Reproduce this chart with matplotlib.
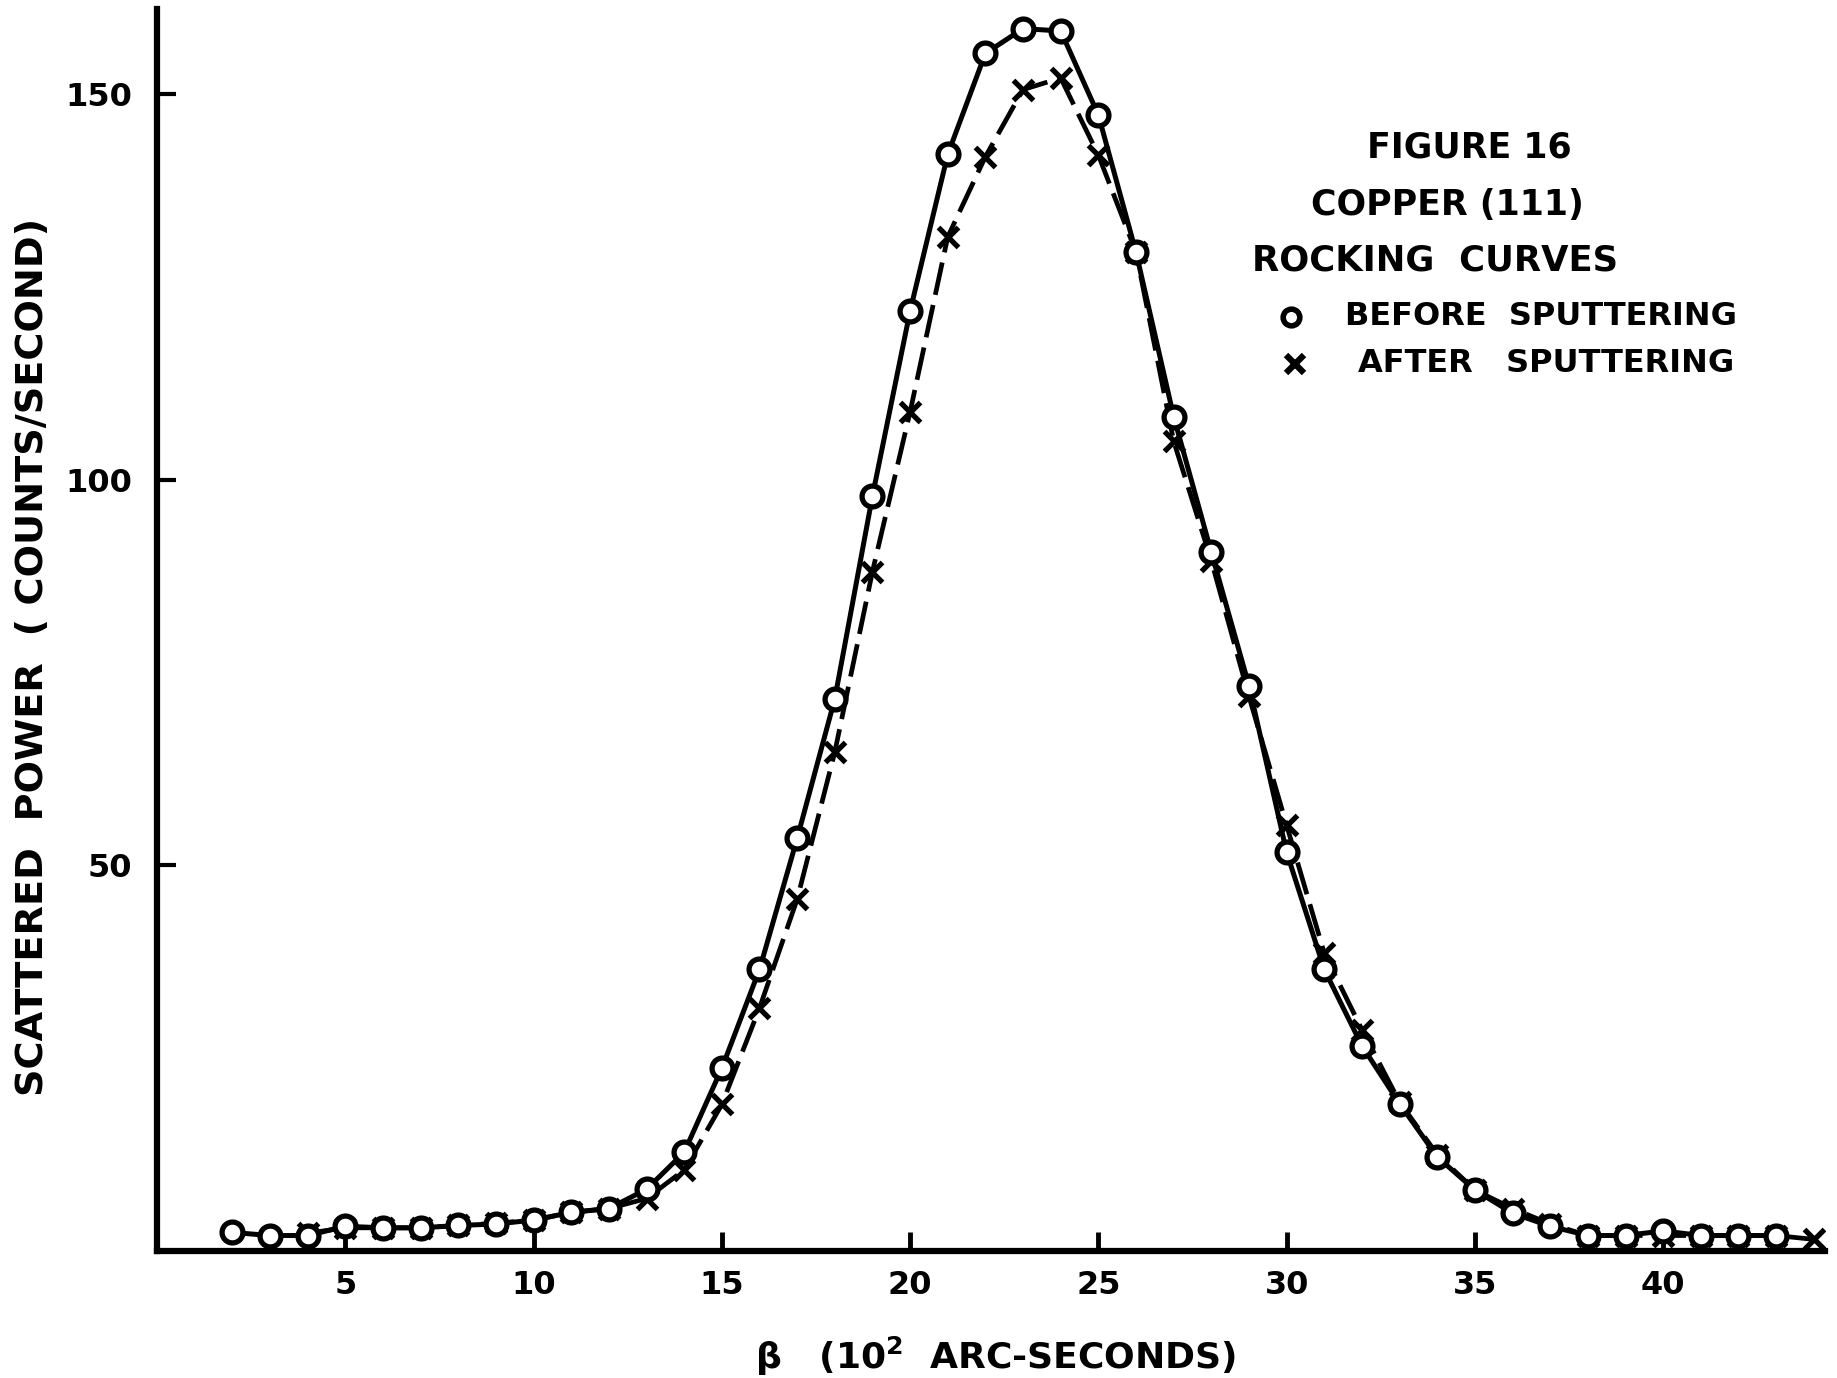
import matplotlib
matplotlib.use("Agg")
import matplotlib.pyplot as plt

# Data: beta (10^2 arc-seconds) and scattered power (counts/second)
before_x = [2, 3, 4, 5, 6, 7, 8, 9, 10, 11, 12, 13, 14, 15, 16, 17, 18, 19, 20, 21,
            22, 23, 24, 25, 26, 27, 28, 29, 30, 31, 32, 33, 34, 35, 36, 37, 38, 39, 40, 41, 42, 43]
before_y = [2.4, 2.0, 2.0, 3.2, 3.0, 3.0, 3.3, 3.5, 4.0, 5.0, 5.5, 8.0, 12.8, 23.7, 36.5, 53.5,
            71.6, 97.9, 121.9, 142.2, 155.3, 158.5, 158.2, 147.3, 129.5, 108.2, 90.6, 73.3,
            51.7, 36.5, 26.6, 19.1, 12.2, 7.9, 4.9, 3.2, 2.0, 2.0, 2.6, 2.0, 2.0, 2.0]

after_x = [4, 5, 6, 7, 8, 9, 10, 11, 12, 13, 14, 15, 16, 17, 18, 19, 20, 21, 22, 23, 24,
           25, 26, 27, 28, 29, 30, 31, 32, 33, 34, 35, 36, 37, 38, 39, 40, 41, 42, 43, 44]
after_y = [2.3, 3.0, 3.0, 3.0, 3.3, 3.6, 4.0, 5.0, 5.5, 6.8, 10.5, 19.0, 31.5, 45.6, 64.7,
           88.1, 108.8, 131.5, 141.9, 150.6, 152.1, 142.1, 129.5, 105.0, 89.5, 71.9, 55.2,
           38.6, 28.7, 19.3, 12.5, 7.9, 5.5, 3.5, 2.0, 2.0, 2.0, 2.0, 2.0, 2.0, 1.5]

x_ticks = [5, 10, 15, 20, 25, 30, 35, 40]
y_ticks = [50, 100, 150]

FONT = "DejaVu Sans"

fig = plt.figure(figsize=(18.37, 13.78), dpi=100)
ax = fig.add_axes([0.0855, 0.0922, 0.908, 0.901])

ax.plot(after_x, after_y, color="black", lw=3.4, dashes=(7, 2.2), zorder=2)
ax.plot(after_x, after_y, ls="none", marker="x", ms=15, mew=3.8, color="black", zorder=3)
ax.plot(before_x, before_y, color="black", lw=3.6, zorder=4,
        marker="o", ms=15, mew=3.8, mfc="white", mec="black")

ax.set_xlim(0, 44.3)
ax.set_ylim(0, 161)
ax.set_xticks(x_ticks)
ax.set_yticks(y_ticks)
ax.set_xticklabels([str(v) for v in x_ticks], fontsize=23, fontweight="bold", family=FONT)
ax.set_yticklabels([str(v) for v in y_ticks], fontsize=23, fontweight="bold", family=FONT)
ax.tick_params(axis="x", direction="in", length=14, width=3.5, pad=14)
ax.tick_params(axis="y", direction="in", length=14, width=3.0, pad=18)

for s in ("top", "right"):
    ax.spines[s].set_visible(False)
for s in ("left", "bottom"):
    ax.spines[s].set_linewidth(4.5)

fig.text(0.018, 0.523, "SCATTERED  POWER  ( COUNTS/SECOND)", rotation=90,
         ha="center", va="center", fontsize=27.5, fontweight="bold", family=FONT)
fig.text(0.542, 0.016, "β   (10$^{\\mathbf{2}}$  ARC-SECONDS)", ha="center", va="center",
         fontsize=26, fontweight="bold", family=FONT)

fig.text(0.800, 0.893, "FIGURE 16", ha="center", va="center",
         fontsize=25, fontweight="bold", family=FONT)
fig.text(0.788, 0.851, "COPPER (111)", ha="center", va="center",
         fontsize=25, fontweight="bold", family=FONT)
fig.text(0.781, 0.811, "ROCKING  CURVES", ha="center", va="center",
         fontsize=25.5, fontweight="bold", family=FONT)
fig.text(0.732, 0.770, "BEFORE  SPUTTERING", ha="left", va="center",
         fontsize=23, fontweight="bold", family=FONT)
fig.text(0.739, 0.736, "AFTER   SPUTTERING", ha="left", va="center",
         fontsize=23, fontweight="bold", family=FONT)
fig.lines.append(plt.Line2D([0.703], [0.770], transform=fig.transFigure, marker="o",
                            ms=12, mew=4, mfc="white", mec="black", ls="none"))
fig.lines.append(plt.Line2D([0.705], [0.736], transform=fig.transFigure, marker="x",
                            ms=13, mew=4.5, color="black", ls="none"))

fig.savefig("out.png", dpi=100)
